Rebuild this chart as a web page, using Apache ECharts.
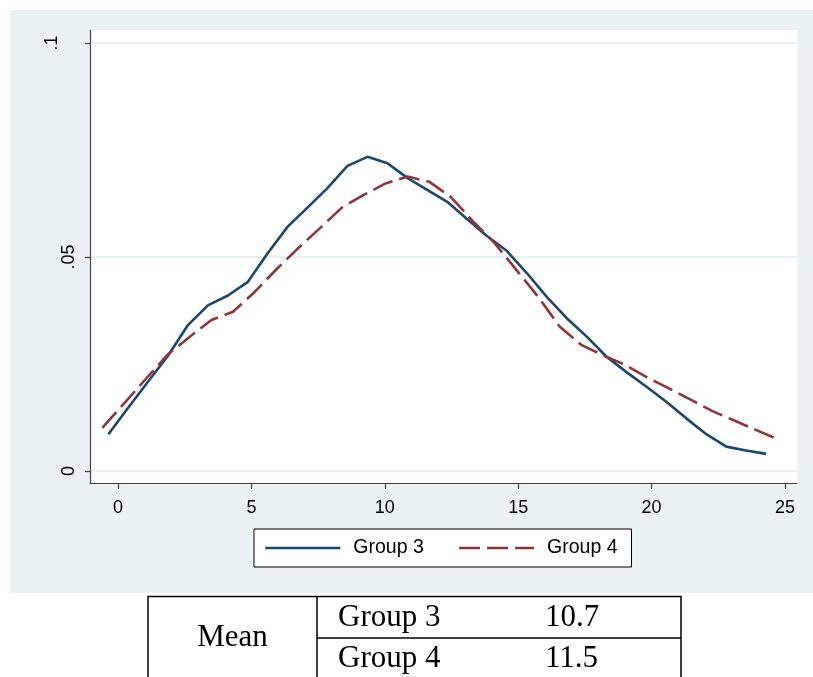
<!DOCTYPE html>
<html>
<head>
<meta charset="utf-8">
<script src="https://cdn.jsdelivr.net/npm/echarts@6/dist/echarts.min.js"></script>
<style>
  html, body { margin: 0; padding: 0; background: #ffffff; }
  #chart { width: 813px; height: 677px; }
</style>
</head>
<body>
<div id="chart"></div>
<script>
// Kernel density estimates for the two groups (x = score, y = density)
const group3X = [-0.36, 0.38, 1.13, 1.88, 2.62, 3.37, 4.12, 4.87, 5.61, 6.36, 7.11, 7.85,
  8.60, 9.35, 10.10, 10.84, 11.59, 12.34, 13.08, 13.83, 14.58, 15.33, 16.07, 16.82,
  17.57, 18.31, 19.06, 19.81, 20.55, 21.30, 22.05, 22.80, 23.54, 24.29];
const group3Y = [0.0086, 0.0148, 0.0209, 0.0270, 0.0341, 0.0387, 0.0410, 0.0442, 0.0509,
  0.0571, 0.0616, 0.0661, 0.0713, 0.0734, 0.0719, 0.0685, 0.0657, 0.0629, 0.0589, 0.0549,
  0.0514, 0.0462, 0.0407, 0.0357, 0.0314, 0.0267, 0.0231, 0.0197, 0.0162, 0.0123, 0.0086,
  0.0057, 0.0048, 0.0040];

const group4X = [-0.59, 0.23, 1.04, 1.86, 2.68, 3.50, 4.31, 5.13, 5.95, 6.76, 7.58, 8.40,
  9.21, 10.03, 10.85, 11.66, 12.48, 13.30, 14.11, 14.93, 15.75, 16.56, 17.38, 18.20,
  19.01, 19.83, 20.65, 21.46, 22.28, 23.10, 23.91, 24.73];
const group4Y = [0.0101, 0.0158, 0.0215, 0.0272, 0.0313, 0.0353, 0.0372, 0.0419, 0.0472,
  0.0521, 0.0568, 0.0616, 0.0645, 0.0672, 0.0688, 0.0676, 0.0640, 0.0584, 0.0533, 0.0470,
  0.0407, 0.0337, 0.0294, 0.0270, 0.0248, 0.0219, 0.0193, 0.0167, 0.0140, 0.0118, 0.0096,
  0.0074];

const seriesNames = ['Group 3', 'Group 4'];
const xTicks = [0, 5, 10, 15, 20, 25];
const yTicks = [0, 0.05, 0.1];
const yTickLabels = ['0', '.05', '.1'];

// Summary table
const tableTitle = 'Mean';
const tableGroups = ['Group 3', 'Group 4'];
const tableMeans = ['10.7', '11.5'];

const SANS = '"Liberation Sans", Arial, Helvetica, sans-serif';
const SERIF = '"Liberation Serif", "Times New Roman", serif';
const NAVY = '#1a476f';
const MAROON = '#90353b';
const PANEL = '#eaf2f3';
const TABLE_FONT = '31px ' + SERIF;

const zip = (xs, ys) => xs.map((x, i) => [x, ys[i]]);

const chart = echarts.init(document.getElementById('chart'), null, { renderer: 'canvas' });

function yLabel(v) {
  const i = yTicks.findIndex(t => Math.abs(t - v) < 1e-9);
  const s = i >= 0 ? yTickLabels[i] : String(v);
  return s === '.1' ? '{far|' + s + '}' : '{n|' + s + '}';
}

const option = {
  animation: false,
  backgroundColor: '#ffffff',
  grid: {
    left: 90, top: 30, width: 707, height: 453,
    show: true, backgroundColor: '#ffffff', borderWidth: 0,
    containLabel: false
  },
  xAxis: {
    type: 'value',
    min: -1.05, max: 25.45,
    axisLine: { show: true, onZero: false, lineStyle: { color: '#444', width: 1.2 } },
    axisTick: { show: true, customValues: xTicks, length: 6, lineStyle: { color: '#444', width: 1.2 } },
    axisLabel: { customValues: xTicks, margin: 16, fontSize: 18, color: '#000', fontFamily: SANS },
    splitLine: { show: false }
  },
  yAxis: {
    type: 'value',
    min: -0.0028, max: 0.10304,
    axisLine: { show: true, onZero: false, lineStyle: { color: '#444', width: 1.2 } },
    axisTick: { show: true, customValues: yTicks, length: 5, lineStyle: { color: '#444', width: 1.2 } },
    axisLabel: {
      customValues: yTicks, rotate: 90, margin: 12, color: '#000',
      formatter: yLabel,
      rich: {
        n: { fontSize: 18, fontFamily: SANS, color: '#000' },
        far: { fontSize: 18, fontFamily: SANS, color: '#000', padding: [0, 0, 17, 0] }
      }
    },
    splitLine: { show: true, lineStyle: { color: PANEL, width: 1.8 } }
  },
  legend: {
    data: seriesNames,
    left: 254, top: 529,
    orient: 'horizontal',
    itemWidth: 75, itemHeight: 18, itemGap: 34,
    padding: [9, 14, 9, 10],
    backgroundColor: '#ffffff',
    borderColor: '#000', borderWidth: 1,
    itemStyle: { color: 'rgba(0,0,0,0)', borderWidth: 0, opacity: 0 },
    lineStyle: { width: 2.6 },
    textStyle: { fontSize: 19.5, fontFamily: SANS, color: '#000', padding: [0, 0, 0, 8] }
  },
  series: [
    {
      name: seriesNames[0], type: 'line',
      data: zip(group3X, group3Y),
      symbol: 'none', showSymbol: false,
      lineStyle: { color: NAVY, width: 2.6, type: 'solid' },
      itemStyle: { color: NAVY }
    },
    {
      name: seriesNames[1], type: 'line',
      data: zip(group4X, group4Y),
      symbol: 'none', showSymbol: false,
      lineStyle: { color: MAROON, width: 2.6, type: [21, 7] },
      itemStyle: { color: MAROON }
    }
  ],
  graphic: [
    // graph region panel
    { type: 'rect', z: -100, shape: { x: 10, y: 10, width: 803, height: 583 }, style: { fill: PANEL } },
    // table frame
    { type: 'rect', shape: { x: 148, y: 596.5, width: 533, height: 100 },
      style: { fill: '#ffffff', stroke: '#000', lineWidth: 1.5 } },
    { type: 'line', shape: { x1: 317, y1: 596.5, x2: 317, y2: 700 }, style: { stroke: '#000', lineWidth: 1.5 } },
    { type: 'line', shape: { x1: 317, y1: 638, x2: 681, y2: 638 }, style: { stroke: '#000', lineWidth: 1.5 } },
    { type: 'text', style: { text: tableTitle, x: 232.5, y: 638, align: 'center', verticalAlign: 'middle',
        font: TABLE_FONT, fill: '#000' } },
    { type: 'text', style: { text: tableGroups[0], x: 338, y: 618, align: 'left', verticalAlign: 'middle',
        font: TABLE_FONT, fill: '#000' } },
    { type: 'text', style: { text: tableMeans[0], x: 545, y: 618, align: 'left', verticalAlign: 'middle',
        font: TABLE_FONT, fill: '#000' } },
    { type: 'text', style: { text: tableGroups[1], x: 338, y: 659, align: 'left', verticalAlign: 'middle',
        font: TABLE_FONT, fill: '#000' } },
    { type: 'text', style: { text: tableMeans[1], x: 545, y: 659, align: 'left', verticalAlign: 'middle',
        font: TABLE_FONT, fill: '#000' } }
  ]
};

chart.setOption(option);
</script>
</body>
</html>
